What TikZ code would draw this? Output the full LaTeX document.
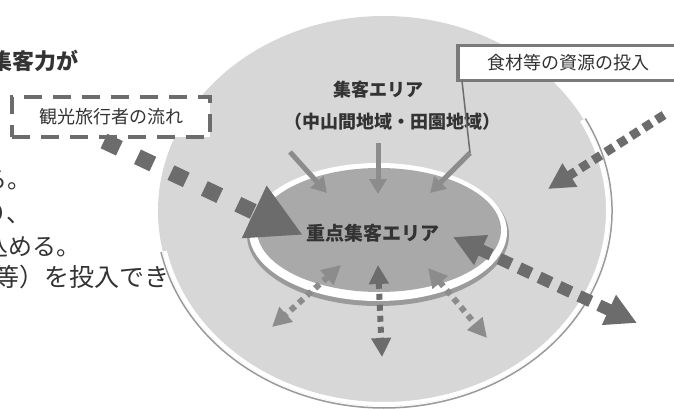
\documentclass[tikz,border=0pt]{standalone}
\usepackage{fontspec}
\setmainfont{Noto Sans CJK JP}
\usetikzlibrary{arrows.meta}
\definecolor{outerfill}{HTML}{D7D7D7}
\definecolor{innerfill}{HTML}{A9A9A9}
\definecolor{arrowgray}{HTML}{8C8C8C}
\definecolor{dashgray}{HTML}{6C6C6C}
\definecolor{ringgray}{HTML}{9A9A9A}
\definecolor{boxgray}{HTML}{7A7A7A}
\definecolor{textgray}{HTML}{333333}
\begin{document}
\begin{tikzpicture}[x=1pt,y=-1pt,
  lbl/.style={inner sep=0pt, text=textgray},
  sz18/.style={font=\fontsize{18}{20}\selectfont},
  sz18b/.style={font=\fontsize{18}{20}\selectfont\bfseries},
  sz24/.style={font=\fontsize{24}{26}\selectfont},
  tourbox/.style={draw=dashgray, fill=white, line width=3.5pt, dash pattern=on 18pt off 11pt,
    minimum width=198pt, minimum height=40pt, inner sep=0pt, text=textgray},
  foodbox/.style={draw=boxgray, fill=white, line width=3.5pt,
    minimum width=220pt, minimum height=35pt, inner sep=0pt, text=textgray},
  inarrow/.style={draw=arrowgray, line width=5pt, -{Triangle[length=15pt,width=17pt]}},
  bigdash/.style={draw=dashgray, line width=16pt, dash pattern=on 17pt off 20pt,
    -{Triangle[length=54pt,width=54pt]}},
  middash/.style={draw=dashgray, line width=9pt, dash pattern=on 9pt off 6pt,
    -{Triangle[length=26pt,width=26pt]}},
  twodash/.style={draw=dashgray, line width=12pt, dash pattern=on 13pt off 9pt,
    {Triangle[length=31pt,width=31pt]}-{Triangle[length=31pt,width=31pt]}},
  dotdash/.style={draw=#1, line width=6pt, dash pattern=on 6pt off 5pt,
    {Triangle[length=19pt,width=19pt]}-{Triangle[length=19pt,width=19pt]}}
]
\useasboundingbox (0,0) rectangle (674,409);
\clip (0,0) rectangle (674,409);
\fill[white] (0,0) rectangle (674,409);

% outer area
\fill[outerfill] (384,211) ellipse [x radius=226, y radius=195];
\draw[white, line width=4pt] ([shift={(384,211)}]-28:224 and 193) arc[start angle=-28, end angle=168, x radius=224, y radius=193];
\draw[ringgray, line width=1.5pt] ([shift={(384,211)}]-28:228 and 197) arc[start angle=-28, end angle=168, x radius=228, y radius=197];

% inner area
\fill[ringgray] (378,235) ellipse [x radius=131, y radius=71];
\fill[white] (378,232) ellipse [x radius=129, y radius=69];
\fill[innerfill] (379,230) ellipse [x radius=122, y radius=62];

% texts
\node[lbl, font=\fontsize{22}{24}\selectfont\bfseries, anchor=east] (t1) at (79,61) {集客力が};
\node[lbl, sz24, anchor=east] (t2) at (32,180) {る。};
\node[lbl, sz24, anchor=east] (t3) at (31,214) {り、};
\node[lbl, sz24, anchor=west] (t4) at (-16,247) {込める。};
\node[lbl, font=\fontsize{25}{27}\selectfont, anchor=west] (t5) at (-6,277) {等）を投入でき};

\node[lbl, sz18b] (outerlbl) at (378,90) {集客エリア};
\node[lbl, sz18b] (outersub) at (392,122) {（中山間地域・田園地域）};
\node[lbl, font=\fontsize{19}{21}\selectfont\bfseries] (innerlbl) at (373,233) {重点集客エリア};

\node[tourbox, sz18] (tour) at (111,117) {観光旅行者の流れ};
\node[foodbox, sz18] (food) at (568,63) {食材等の資源の投入};

% coordinates
\coordinate (a1s) at (290,152); \coordinate (a1e) at (327,193);
\coordinate (a2s) at (378,143); \coordinate (a2e) at (378,194);
\coordinate (foodfoot) at (462,81); \coordinate (bend) at (470,153); \coordinate (a3e) at (430,193);
\coordinate (tstart) at (104,141); \coordinate (bigtip) at (303,235);
\coordinate (rtstart) at (664,115); \coordinate (rttip) at (548,189);
\coordinate (lrin) at (453,237); \coordinate (lrout) at (637,323);
\coordinate (b1in) at (341,265); \coordinate (b1out) at (272,327);
\coordinate (b2in) at (378,265); \coordinate (b2out) at (382,357);
\coordinate (b3in) at (428,268); \coordinate (b3out) at (487,338);

% inward arrows
\draw[inarrow] (a1s) -- (a1e);
\draw[inarrow] (a2s) -- (a2e);
\draw[draw=dashgray, line width=1.5pt] (foodfoot) -- (bend);
\draw[inarrow] (bend) -- (a3e);

% dashed flows
\draw[bigdash] (tstart) -- (bigtip);
\draw[middash] (rtstart) -- (rttip);
\draw[twodash] (lrin) -- (lrout);
\draw[dotdash=arrowgray] (b1in) -- (b1out);
\draw[dotdash=dashgray] (b2in) -- (b2out);
\draw[dotdash=arrowgray] (b3in) -- (b3out);
\end{tikzpicture}
\end{document}
